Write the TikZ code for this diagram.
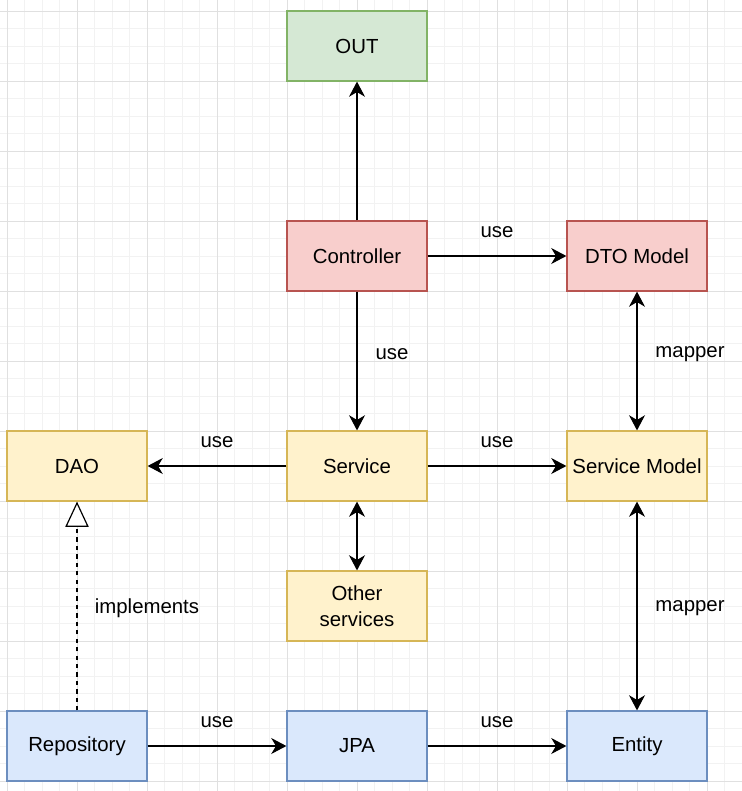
\documentclass[tikz,border=0pt]{standalone}
\usepackage{fontspec}
\setmainfont{Liberation Sans}
\usepackage{tikz}
\usetikzlibrary{arrows.meta}
\definecolor{gridmin}{HTML}{F2F2F2}
\definecolor{gridmaj}{HTML}{E0E0E0}
\definecolor{greenfill}{HTML}{D5E8D4}
\definecolor{greenline}{HTML}{82B366}
\definecolor{redfill}{HTML}{F8CECC}
\definecolor{redline}{HTML}{B85450}
\definecolor{yellowfill}{HTML}{FFF2CC}
\definecolor{yellowline}{HTML}{D6B656}
\definecolor{bluefill}{HTML}{DAE8FC}
\definecolor{blueline}{HTML}{6C8EBF}

\begin{document}
\begin{tikzpicture}[x=0.025cm,y=-0.025cm,
  font=\fontsize{14.5}{18.5}\selectfont,
  box/.style={draw,line width=0.85pt,minimum width=3.5cm,minimum height=1.75cm,inner sep=0pt,align=center},
  outbox/.style={box,fill=greenfill,draw=greenline},
  webbox/.style={box,fill=redfill,draw=redline},
  svcbox/.style={box,fill=yellowfill,draw=yellowline},
  databox/.style={box,fill=bluefill,draw=blueline},
  link/.style={line width=0.85pt,-{Stealth[length=0.38cm,width=0.4cm,inset=0.12cm]}},
  twolink/.style={line width=0.85pt,{Stealth[length=0.38cm,width=0.4cm,inset=0.12cm]}-{Stealth[length=0.38cm,width=0.4cm,inset=0.12cm]}},
  impl/.style={line width=0.85pt,dashed,-{Triangle[open,fill=white,length=0.63cm,width=0.58cm]}},
  lbl/.style={inner sep=1pt}]
\useasboundingbox (0,0) rectangle (742,791);
%grid background
\foreach \k in {0,...,42} \draw[gridmin,line width=0.5pt] ({7+17.5*\k},0) -- ({7+17.5*\k},791);
\foreach \k in {0,...,44} \draw[gridmin,line width=0.5pt] (0,{11+17.5*\k}) -- (742,{11+17.5*\k});
\foreach \k in {0,...,10} \draw[gridmaj,line width=0.6pt] ({7+70*\k},0) -- ({7+70*\k},791);
\foreach \k in {0,...,11} \draw[gridmaj,line width=0.6pt] (0,{11+70*\k}) -- (742,{11+70*\k});
%top
\node[outbox] (out) at (357,46) {OUT};
\node[webbox] (controller) at (357,256) {Controller};
\node[webbox] (dto) at (637,256) {DTO Model};
%middle
\node[svcbox] (dao) at (77,466) {DAO};
\node[svcbox] (service) at (357,466) {Service};
\node[svcbox] (svcmodel) at (637,466) {Service Model};
\node[svcbox] (other) at (357,606) {Other\\services};
%bottom
\node[databox] (repo) at (77,746) {Repository};
\node[databox] (jpa) at (357,746) {JPA};
\node[databox] (entity) at (637,746) {Entity};
%connectors
\draw[link] (controller) -- (out);
\draw[link] (controller) -- (dto);
\draw[link] (controller) -- (service);
\draw[link] (service) -- (dao);
\draw[link] (service) -- (svcmodel);
\draw[twolink] (service) -- (other);
\draw[twolink] (dto) -- (svcmodel);
\draw[twolink] (svcmodel) -- (entity);
\draw[impl] (repo) -- (dao);
\draw[link] (repo) -- (jpa);
\draw[link] (jpa) -- (entity);
%labels
\node[lbl] (usedto) at (497,232) {use};
\node[lbl] (usesvc) at (392,354) {use};
\node[lbl] (usedao) at (217,442) {use};
\node[lbl] (usemodel) at (497,442) {use};
\node[lbl] (mapdto) at (690,354) {mapper};
\node[lbl] (mapentity) at (690,608) {mapper};
\node[lbl] (implements) at (147,608) {implements};
\node[lbl] (usejpa) at (217,722) {use};
\node[lbl] (useentity) at (497,722) {use};
\end{tikzpicture}
\end{document}
